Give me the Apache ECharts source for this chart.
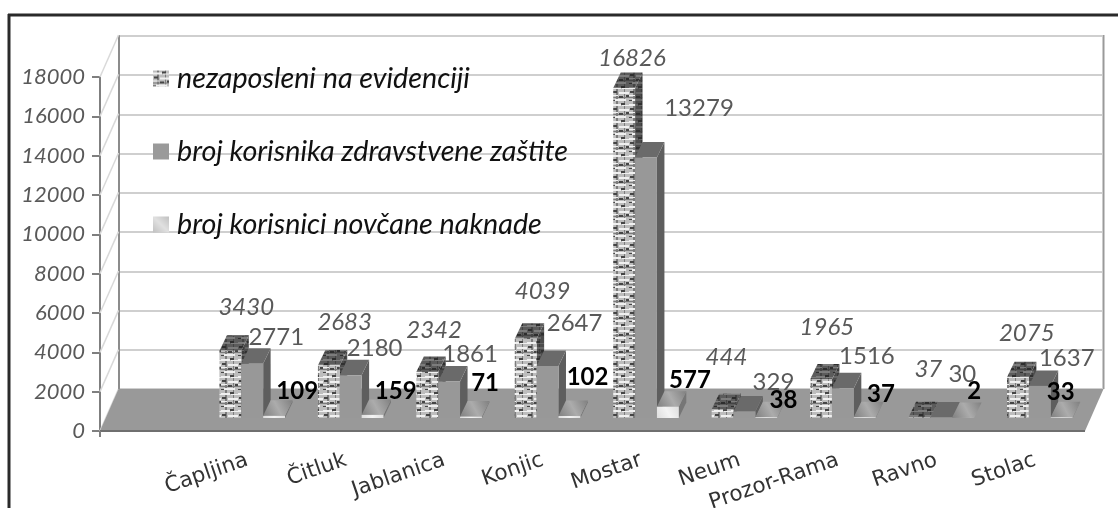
<!DOCTYPE html>
<html>
<head>
<meta charset="utf-8">
<style>
  html, body { margin: 0; padding: 0; background: #fff; }
  #chart { width: 1118px; height: 508px; }
</style>
<script src="https://cdn.jsdelivr.net/npm/echarts@6/dist/echarts.min.js"></script>
</head>
<body>
<div id="chart"></div>
<script>
const categories = ['Čapljina', 'Čitluk', 'Jablanica', 'Konjic', 'Mostar', 'Neum', 'Prozor-Rama', 'Ravno', 'Stolac']
const seriesNames = ['nezaposleni na evidenciji', 'broj korisnika zdravstvene zaštite', 'broj korisnici novčane naknade']
const unemployed = [3430, 2683, 2342, 4039, 16826, 444, 1965, 37, 2075]
const healthUsers = [2771, 2180, 1861, 2647, 13279, 329, 1516, 30, 1637]
const benefitUsers = [109, 159, 71, 102, 577, 38, 37, 2, 33]
const yTicks = [0, 2000, 4000, 6000, 8000, 10000, 12000, 14000, 16000, 18000]

// hand placed labels in the original, [dx, dy] from the bar top
const unemployedShift = [[-6, -43], [-6, -43], [-15, -42], [-5, -48], [-14, -30], [-18, -52], [-16, -52], [-13, -48], [-13, -44]]
const healthShift = [[24, -26], [24, -27], [21, -27], [27, -43], [53, -49], [29, -29], [24, -32], [21, -43], [27, -28]]
const benefitShift = [[45, -25], [45, -24], [36, -33], [40, -39], [44, -26], [39, -17], [38, -23], [33, -27], [21, -25]]

const wallDepth = [18.5, -42]
const barDepth = [7.5, -15.5]
const font = 'Lato, "Open Sans", sans-serif'

function tile(size, draw) {
  const c = document.createElement('canvas')
  c.width = size
  c.height = size
  draw(c.getContext('2d'))
  return { image: c, repeat: 'repeat' }
}

// woven plaid look of the first series
function weave(bg, dark, mid, light) {
  return function (ctx) {
    ctx.fillStyle = bg
    ctx.fillRect(0, 0, 17, 17)
    ctx.fillStyle = mid
    ctx.fillRect(4, 0, 2, 17)
    ctx.fillRect(12, 0, 1, 17)
    ctx.fillRect(0, 12, 17, 1)
    ctx.fillStyle = light
    ctx.fillRect(0, 2, 9, 2)
    ctx.fillRect(10, 3, 7, 1)
    ctx.fillRect(7, 7, 10, 2)
    ctx.fillRect(0, 10, 6, 1)
    ctx.fillRect(3, 14, 11, 2)
    ctx.fillStyle = dark
    ctx.fillRect(9, 1, 4, 2)
    ctx.fillRect(1, 6, 4, 2)
    ctx.fillRect(14, 10, 3, 2)
    ctx.fillRect(7, 11, 4, 2)
    ctx.fillRect(0, 15, 3, 1)
  }
}

function diag(c1, c2) {
  return {
    type: 'linear',
    x: 0,
    y: 1,
    x2: 1,
    y2: 0,
    colorStops: [
      { offset: 0, color: c1 },
      { offset: 0.5, color: c2 },
      { offset: 1, color: c1 }
    ]
  }
}

const brickFront = tile(17, weave('#bdbdbd', '#454545', '#7c7c7c', '#f0f0f0'))
const brickTop = tile(17, weave('#5c5c5c', '#2e2e2e', '#444444', '#7c7c7c'))
const brickSide = tile(17, weave('#4c4c4c', '#303030', '#3c3c3c', '#666666'))
const stripeFront = diag('#dedede', '#f4f4f4')
const stripeTop = diag('#808080', '#acacac')
const stripeSide = '#767676'

function barRenderer(slot, fills, labelFont, labelColor, shifts) {
  return function (params, api) {
    const i = api.value(0)
    const val = api.value(1)
    const w = api.size([1, 0])[0] * 0.222
    const center = api.coord([i, 0])
    const top = api.coord([i, val])[1]
    const base = center[1]
    const x0 = center[0] + (slot - 1.5) * w
    const x1 = x0 + w
    const dx = barDepth[0]
    const dy = barDepth[1]
    return {
      type: 'group',
      children: [
        { type: 'polygon', shape: { points: [[x1, top], [x1 + dx, top + dy], [x1 + dx, base + dy], [x1, base]] }, style: { fill: fills[2] } },
        { type: 'polygon', shape: { points: [[x0, top], [x0 + dx, top + dy], [x1 + dx, top + dy], [x1, top]] }, style: { fill: fills[1] } },
        { type: 'polygon', shape: { points: [[x0, top], [x1, top], [x1, base], [x0, base]] }, style: { fill: fills[0] } },
        {
          type: 'text',
          z2: 100,
          style: {
            x: center[0] + shifts[i][0],
            y: top + shifts[i][1],
            text: String(val),
            font: labelFont,
            fill: labelColor,
            align: 'center',
            verticalAlign: 'middle'
          }
        }
      ]
    }
  }
}

function barSeries(name, values, slot, fills, labelFont, labelColor, shifts) {
  return {
    type: 'custom',
    name: name,
    xAxisIndex: 2,
    yAxisIndex: 2,
    z: 5,
    clip: false,
    silent: true,
    itemStyle: { color: fills[3] },
    data: values.map((v, i) => [i, v]),
    encode: { x: 0, y: 1 },
    renderItem: barRenderer(slot, fills, labelFont, labelColor, shifts)
  }
}

const option = {
  animation: false,
  backgroundColor: '#fff',
  graphic: [
    { type: 'line', shape: { x1: 8, y1: 15, x2: 1118, y2: 15 }, style: { stroke: '#2a2a2a', lineWidth: 3 }, z: 20 },
    { type: 'line', shape: { x1: 9, y1: 14, x2: 9, y2: 508 }, style: { stroke: '#2a2a2a', lineWidth: 3 }, z: 20 }
  ],
  legend: {
    left: 148,
    top: 59,
    orient: 'vertical',
    itemWidth: 16,
    itemHeight: 16,
    itemGap: 44,
    icon: 'rect',
    selectedMode: false,
    z: 10,
    textStyle: { fontFamily: font, fontStyle: 'italic', fontSize: 28.7, color: '#111', padding: [0, 0, 0, 3] },
    data: [
      { name: seriesNames[0], itemStyle: { color: brickFront } },
      { name: seriesNames[1], itemStyle: { color: '#9a9a9a' } },
      { name: seriesNames[2], itemStyle: { color: diag('#c0c0c0', '#e0e0e0') } }
    ]
  },
  grid: [
    { left: 100, top: 77, width: 985, height: 354, outerBoundsMode: 'none' },
    { left: 119, top: 36, width: 983, height: 353, outerBoundsMode: 'none' },
    { left: 203, top: 65, width: 886, height: 353, outerBoundsMode: 'none' }
  ],
  xAxis: [
    { gridIndex: 0, type: 'value', min: 0, max: 1, show: false },
    { gridIndex: 1, type: 'value', min: 0, max: 1, show: false },
    {
      gridIndex: 2,
      type: 'category',
      data: categories,
      axisLine: { show: false },
      axisTick: { show: false },
      axisLabel: {
        interval: 0,
        rotate: 19,
        margin: 40,
        fontFamily: '"DejaVu Sans", sans-serif',
        fontSize: 21.5,
        color: '#333',
        padding: [0, 5, 0, 0]
      }
    }
  ],
  yAxis: [
    {
      gridIndex: 0,
      type: 'value',
      min: 0,
      max: 18000,
      interval: 2000,
      splitLine: { show: false },
      axisLine: { show: true, lineStyle: { color: '#7f7f7f', width: 2 } },
      axisTick: { show: true, length: 8, lineStyle: { color: '#7f7f7f', width: 2 } },
      axisLabel: {
        margin: 15,
        fontFamily: font,
        fontStyle: 'italic',
        fontSize: 22,
        color: '#595959',
        formatter: v => String(v)
      }
    },
    {
      gridIndex: 1,
      type: 'value',
      min: 0,
      max: 18000,
      interval: 2000,
      axisLine: { show: true, lineStyle: { color: '#8c8c8c', width: 2 } },
      axisTick: { show: false },
      axisLabel: { show: false },
      splitLine: { show: true, lineStyle: { color: '#cfcfcf', width: 2 } }
    },
    { gridIndex: 2, type: 'value', min: 0, max: 18000, show: false }
  ],
  series: [
    {
      // diagonal lines on the side wall
      type: 'custom',
      name: 'wall',
      xAxisIndex: 0,
      yAxisIndex: 0,
      z: 2,
      silent: true,
      clip: false,
      data: yTicks.map(t => [0, t]),
      renderItem: function (params, api) {
        const p = api.coord([api.value(0), api.value(1)])
        return {
          type: 'line',
          shape: { x1: p[0], y1: p[1], x2: p[0] + wallDepth[0], y2: p[1] + wallDepth[1] },
          style: { stroke: '#d9d9d9', lineWidth: 1.5 }
        }
      }
    },
    {
      // floor plate and right edge of the back wall
      type: 'custom',
      name: 'floor',
      xAxisIndex: 0,
      yAxisIndex: 0,
      z: 3,
      silent: true,
      clip: false,
      data: [[0, 0]],
      renderItem: function (params, api) {
        const a = api.coord([0, 0])
        const b = api.coord([1, 0])
        const up = api.coord([1, 18000])
        return {
          type: 'group',
          children: [
            {
              type: 'line',
              shape: { x1: b[0] + wallDepth[0], y1: b[1] + wallDepth[1], x2: up[0] + wallDepth[0], y2: up[1] + wallDepth[1] },
              style: { stroke: '#9a9a9a', lineWidth: 2 }
            },
            {
              type: 'polygon',
              shape: { points: [a, b, [b[0] + wallDepth[0], b[1] + wallDepth[1]], [a[0] + wallDepth[0], a[1] + wallDepth[1]]] },
              style: { fill: '#999999' }
            },
            {
              type: 'line',
              shape: { x1: a[0], y1: a[1], x2: b[0], y2: b[1] },
              style: { stroke: '#6f6f6f', lineWidth: 2 }
            },
            {
              type: 'line',
              shape: { x1: a[0], y1: a[1], x2: a[0], y2: a[1] + 6 },
              style: { stroke: '#7f7f7f', lineWidth: 2 }
            }
          ]
        }
      }
    },
    barSeries(seriesNames[0], unemployed, 0, [brickFront, brickTop, brickSide, '#9a9a9a'], 'italic 24px ' + font, '#595959', unemployedShift),
    barSeries(seriesNames[1], healthUsers, 1, ['#989898', '#6a6a6a', '#5e5e5e', '#9a9a9a'], '24px ' + font, '#595959', healthShift),
    barSeries(seriesNames[2], benefitUsers, 2, [stripeFront, stripeTop, stripeSide, '#cfcfcf'], 'bold 24px ' + font, '#000', benefitShift)
  ]
}

const chart = echarts.init(document.getElementById('chart'), null, { renderer: 'canvas' })
chart.setOption(option)
</script>
</body>
</html>
